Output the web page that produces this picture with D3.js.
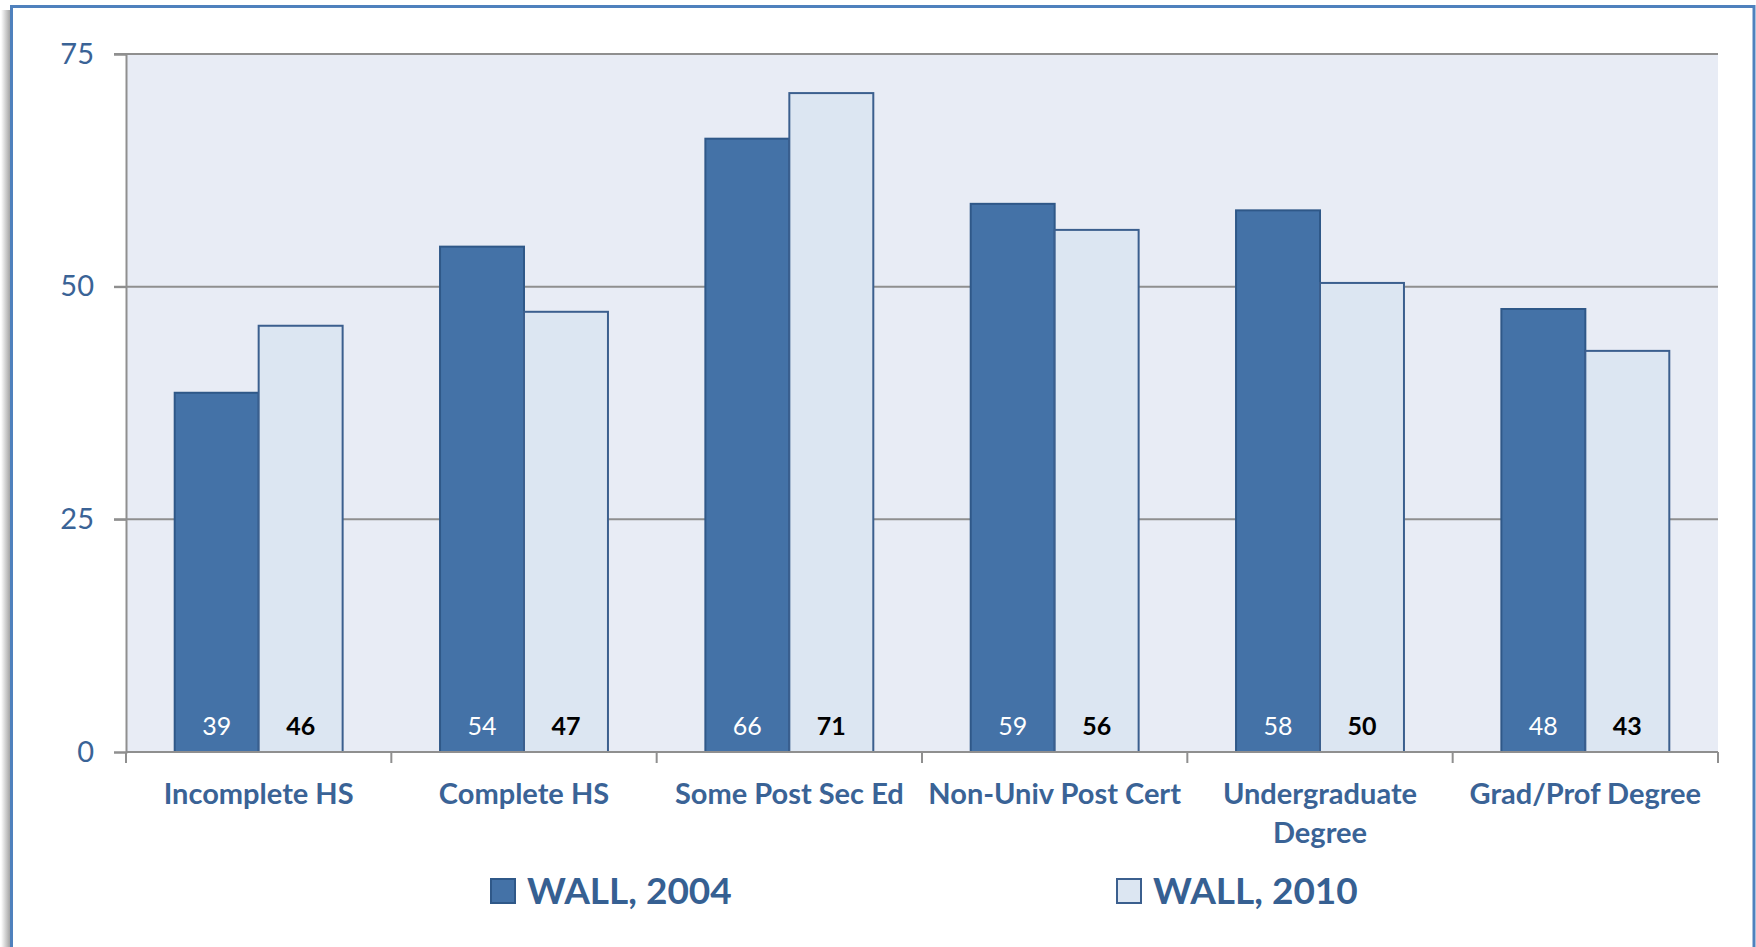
<!DOCTYPE html>
<html><head><meta charset="utf-8">
<script src="https://cdn.jsdelivr.net/npm/d3@7"></script>
<style>
html,body{margin:0;padding:0;background:#fff;}
svg{display:block;}
</style></head>
<body>
<svg id="chart" width="1756" height="947"></svg>
<script>
const categories = ["Incomplete HS", "Complete HS", "Some Post Sec Ed", "Non-Univ Post Cert", "Undergraduate Degree", "Grad/Prof Degree"];
const categoryLines = [["Incomplete HS"], ["Complete HS"], ["Some Post Sec Ed"], ["Non-Univ Post Cert"], ["Undergraduate", "Degree"], ["Grad/Prof Degree"]];
const seriesNames = ["WALL, 2004", "WALL, 2010"];
const wall2004 = [38.6, 54.3, 65.9, 58.9, 58.2, 47.6];
const wall2010 = [45.8, 47.3, 70.8, 56.1, 50.4, 43.1];
const yTicks = [0, 25, 50, 75];

const FONT = "Lato, 'Open Sans', sans-serif";
const svg = d3.select("#chart");

// frame with shadow
const defs = svg.append("defs");
const g1 = defs.append("linearGradient").attr("id", "shadow").attr("x1", 0).attr("x2", 1);
g1.append("stop").attr("offset", "0%").attr("stop-color", "#ffffff");
g1.append("stop").attr("offset", "100%").attr("stop-color", "#9a9a9a");
svg.append("rect").attr("x", 1).attr("y", 10).attr("width", 10).attr("height", 947).attr("fill", "url(#shadow)");
svg.append("rect").attr("x", 11.5).attr("y", 6.5).attr("width", 1742.5).attr("height", 960)
  .attr("fill", "#fff").attr("stroke", "#4f81bd").attr("stroke-width", 3);

const m = {left: 126, top: 54, right: 1718, bottom: 752};
const x0 = d3.scaleBand().domain(categories).range([m.left, m.right]).paddingInner(0).paddingOuter(0);
const x1 = d3.scaleBand().domain(seriesNames).range([0, x0.bandwidth()]).paddingInner(0).paddingOuter(0.58);
const y = d3.scaleLinear().domain([0, 75]).range([m.bottom, m.top]);

// plot background
svg.append("rect").attr("x", m.left).attr("y", m.top).attr("width", m.right - m.left).attr("height", m.bottom - m.top).attr("fill", "#e8ecf5");

// gridlines
svg.append("g").selectAll("line").data(yTicks.filter(d => d > 0)).join("line")
  .attr("x1", m.left - 12).attr("x2", m.right).attr("y1", d => y(d)).attr("y2", d => y(d))
  .attr("stroke", "#8f8f8f").attr("stroke-width", 2);

// y axis
const yAxis = svg.append("g").attr("transform", `translate(${m.left},0)`)
  .call(d3.axisLeft(y).tickValues(yTicks).tickSize(12).tickPadding(20));
yAxis.select(".domain").attr("stroke", "#8f8f8f").attr("stroke-width", 2);
yAxis.selectAll(".tick line").attr("stroke", "#8f8f8f").attr("stroke-width", 2);
yAxis.selectAll(".tick text").attr("font-family", FONT).attr("font-size", 29).attr("fill", "#3a6396");

// bars
const series = [wall2004, wall2010];
const fills = ["#4472a7", "#dce6f2"];
const strokes = ["#2f5888", "#3b5f8e"];
series.forEach((vals, si) => {
  svg.append("g").selectAll("rect").data(vals).join("rect")
    .attr("x", (d, i) => x0(categories[i]) + x1(seriesNames[si]))
    .attr("y", d => y(d))
    .attr("width", x1.bandwidth())
    .attr("height", d => y(0) - y(d))
    .attr("fill", fills[si]).attr("stroke", strokes[si]).attr("stroke-width", 2);
  svg.append("g").selectAll("text").data(vals).join("text")
    .attr("x", (d, i) => x0(categories[i]) + x1(seriesNames[si]) + x1.bandwidth() / 2)
    .attr("y", y(0) - 26)
    .attr("dy", "0.35em")
    .attr("text-anchor", "middle")
    .attr("font-family", FONT).attr("font-size", 25)
    .attr("font-weight", si === 0 ? "normal" : "bold")
    .attr("fill", si === 0 ? "#ffffff" : "#000000")
    .text(d => d3.format(".0f")(d));
});

// x axis
const xAxis = svg.append("g").attr("transform", `translate(0,${m.bottom})`);
xAxis.append("line").attr("x1", m.left).attr("x2", m.right).attr("y1", 0).attr("y2", 0).attr("stroke", "#8f8f8f").attr("stroke-width", 2);
const bounds = categories.map(c => x0(c)).concat([m.right]);
xAxis.selectAll("line.tk").data(bounds).join("line").attr("class", "tk")
  .attr("x1", d => d).attr("x2", d => d).attr("y1", 0).attr("y2", 11).attr("stroke", "#8f8f8f").attr("stroke-width", 2);
categories.forEach((c, i) => {
  const t = xAxis.append("text").attr("x", x0(c) + x0.bandwidth() / 2).attr("y", 42)
    .attr("text-anchor", "middle").attr("font-family", FONT).attr("font-size", 29).attr("font-weight", "bold").attr("fill", "#3a6396");
  categoryLines[i].forEach((ln, j) => t.append("tspan").attr("x", x0(c) + x0.bandwidth() / 2).attr("dy", j === 0 ? "0.35em" : "1.35em").text(ln));
});

// legend
const legendX = [491, 1117];
seriesNames.forEach((s, i) => {
  const g = svg.append("g").attr("transform", `translate(${legendX[i]},879)`);
  g.append("rect").attr("x", 0).attr("y", 0).attr("width", 24).attr("height", 24)
    .attr("fill", fills[i]).attr("stroke", strokes[i]).attr("stroke-width", 2);
  g.append("text").attr("x", 36).attr("y", 12).attr("dy", "0.36em")
    .attr("font-family", FONT).attr("font-size", 37).attr("font-weight", "bold").attr("fill", "#366092").text(s);
});
</script>
</body></html>
